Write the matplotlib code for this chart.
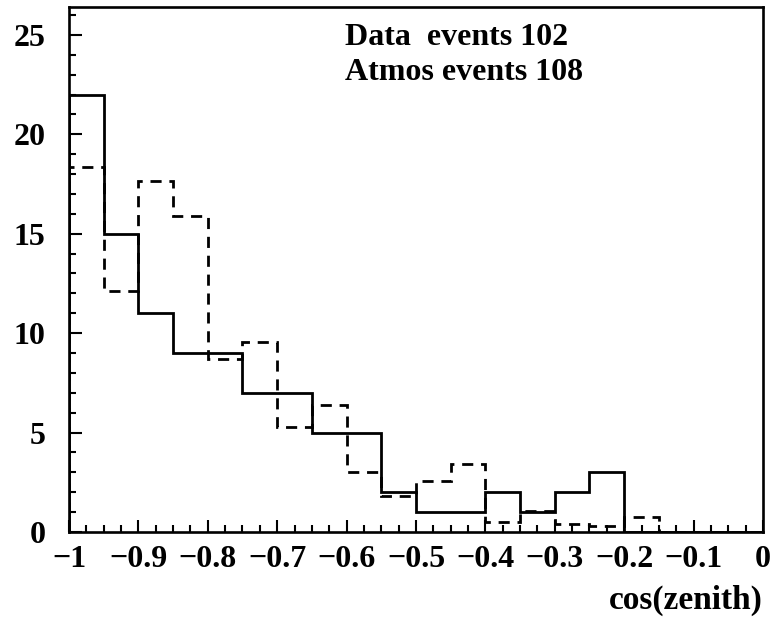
import matplotlib
matplotlib.use("Agg")
import matplotlib.pyplot as plt
import numpy as np
from matplotlib.ticker import MultipleLocator

# cos(zenith) bins, width 0.05 from -1 to 0
bin_edges = np.round(np.arange(-1.0, 0.0001, 0.05), 3)

# observed upward-going events per bin
data_counts = [22, 15, 11, 9, 9, 7, 7, 5, 5, 2, 1, 1, 2, 1, 2, 3, 0, 0, 0, 0]

# atmospheric neutrino expectation per bin
atmos_counts = [18.35, 12.1, 17.65, 15.9, 8.7, 9.55, 5.3, 6.4, 3.0, 1.8,
                2.55, 3.4, 0.5, 1.05, 0.4, 0.3, 0.75, 0, 0, 0]

data_label = "Data  events 102"
atmos_label = "Atmos events 108"

plt.rcParams["font.family"] = ["Liberation Serif", "DejaVu Serif"]
plt.rcParams["font.weight"] = "bold"

fig = plt.figure(figsize=(7.75, 6.21), dpi=100)
ax = fig.add_axes([0.089, 0.1433, 0.8955, 0.8454])

ax.stairs(data_counts, bin_edges, color="black", linewidth=2.0)
ax.stairs(atmos_counts, bin_edges, color="black", linewidth=2.0,
          linestyle=(0, (4, 2.8)))

ax.set_xlim(-1.0, 0.0)
ax.set_ylim(0, 26.4)

ax.xaxis.set_major_locator(MultipleLocator(0.1))
ax.xaxis.set_minor_locator(MultipleLocator(0.025))
ax.yaxis.set_major_locator(MultipleLocator(5))
ax.yaxis.set_minor_locator(MultipleLocator(1))

ax.tick_params(which="both", direction="in", top=False, right=False,
               width=1.5, labelsize=23)
ax.tick_params(which="major", length=9)
ax.tick_params(which="minor", length=5)
ax.tick_params(axis="x", pad=9)
ax.tick_params(axis="y", pad=17)

ax.set_xticks(np.round(np.arange(-1.0, 0.0001, 0.1), 1))
ax.set_xticklabels(["\u22121", "\u22120.9", "\u22120.8", "\u22120.7", "\u22120.6",
                    "\u22120.5", "\u22120.4", "\u22120.3", "\u22120.2", "\u22120.1", "0"])

for spine in ax.spines.values():
    spine.set_linewidth(1.9)

ax.text(0.398, 0.941, data_label, transform=ax.transAxes, fontsize=23,
        fontweight="bold", ha="left", va="center")
ax.text(0.398, 0.876, atmos_label, transform=ax.transAxes, fontsize=23,
        fontweight="bold", ha="left", va="center")

fig.text(0.984, 0.034, "cos(zenith)", fontsize=24, fontweight="bold",
         ha="right", va="center")

fig.savefig("out.png", dpi=100)
